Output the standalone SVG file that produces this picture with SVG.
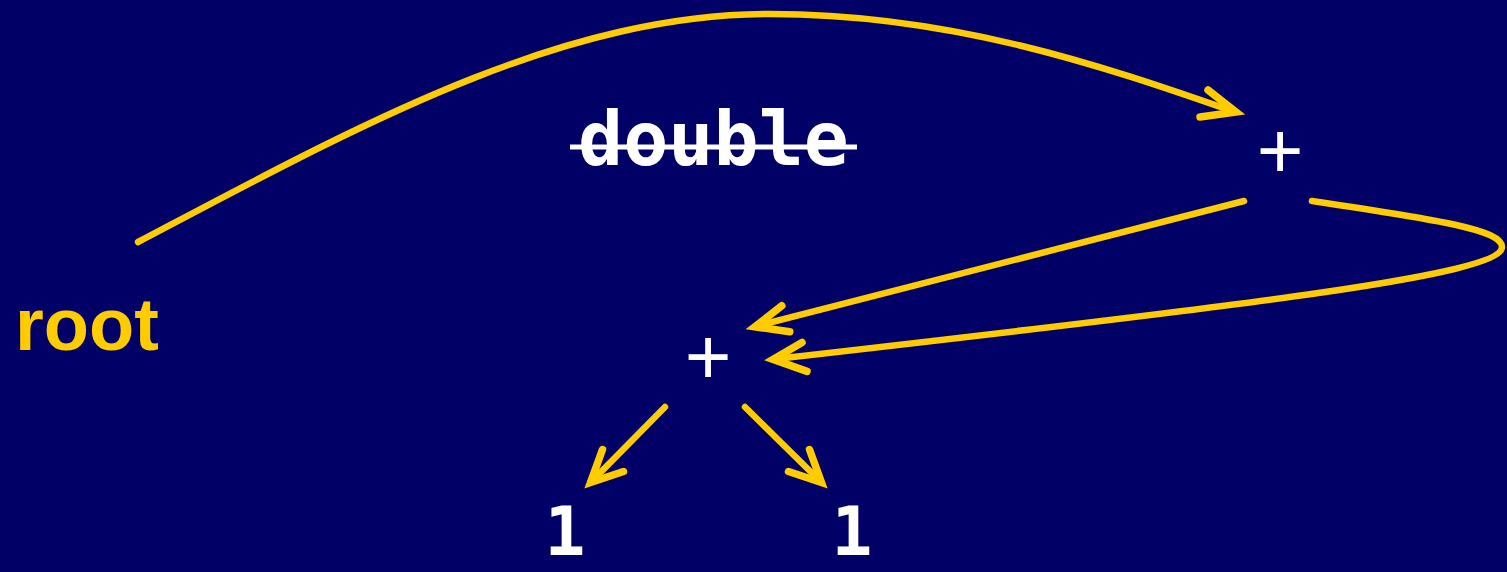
<svg xmlns="http://www.w3.org/2000/svg" width="1507" height="572" viewBox="0 0 1507 572">
<style>
.edge{fill:none;stroke:#FFCC00;stroke-width:6.5;stroke-linecap:round;stroke-linejoin:round}
.head{fill:none;stroke:#FFCC00;stroke-width:7.5;stroke-linecap:round;stroke-linejoin:miter}
.mono{font-family:"DejaVu Sans Mono","Liberation Mono",monospace;font-weight:bold;fill:#FFFFFF}
.plus{font-family:"Liberation Sans",Arial,sans-serif;fill:#FFFFFF;font-size:80px;text-anchor:middle}
</style>
<rect x="0" y="0" width="1507" height="572" fill="#000066"/>
<g id="root">
<text x="15" y="350" font-family="Liberation Sans,Arial,sans-serif" font-weight="bold" font-size="74" fill="#FFCC00">root</text>
</g>
<g id="double">
<text class="mono" x="713.5" y="165" font-size="75" text-anchor="middle">double</text>
<line x1="570" y1="147" x2="857" y2="147" stroke="#FFFFFF" stroke-width="5"/>
</g>
<g id="plus-top">
<text class="plus" x="1280" y="178">+</text>
</g>
<g id="plus-mid">
<text class="plus" x="708" y="384">+</text>
</g>
<g id="one-left">
<text class="mono" x="565" y="555" font-size="68" text-anchor="middle">1</text>
</g>
<g id="one-right">
<text class="mono" x="852" y="555" font-size="68" text-anchor="middle">1</text>
</g>
<g id="connectors">
<path class="edge" d="M138,242 C360,125 560,14 770,14 C950,14 1100,65 1232,111"/>
<path class="head" d="M1208,90 L1236,112 L1200,117"/>
<path class="edge" d="M1244,201 L757,326"/>
<path class="head" d="M781.8,305.8 L754.8,326.8 L789.8,331.8"/>
<path class="edge" d="M1312,201 C1440,220 1502,230 1502,247 C1502,275 1250,305 775,359"/>
<path class="head" d="M802,342.4 L773,359.4 L807,371.4"/>
<path class="edge" d="M665,407 L593,480"/>
<path class="head" d="M602.5,449.5 L590.5,482.5 L623.5,471.5"/>
<path class="edge" d="M745,407 L819,480"/>
<path class="head" d="M809.5,449.5 L821.5,482.5 L788.5,471.5"/>
</g>
</svg>
